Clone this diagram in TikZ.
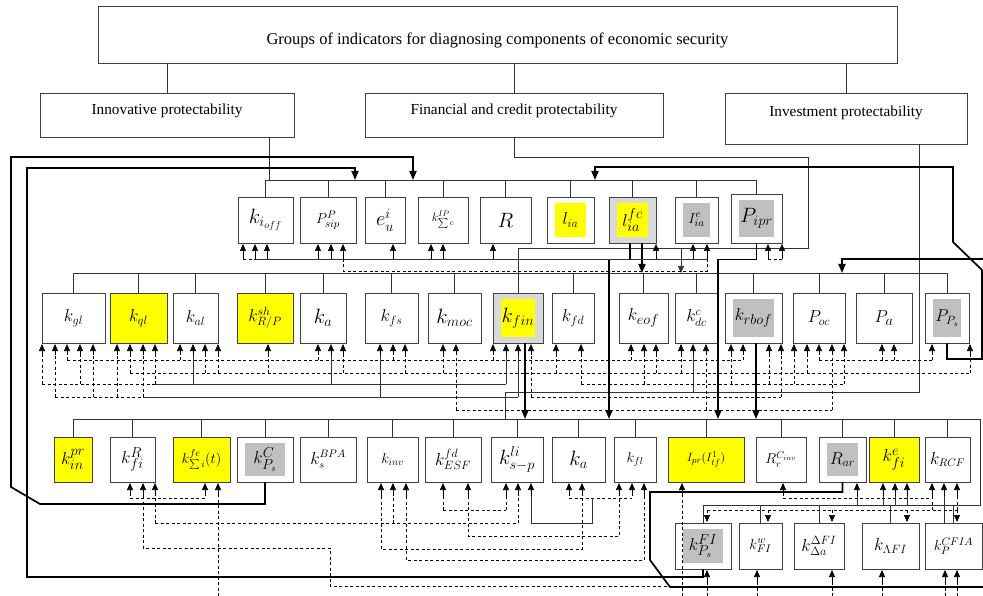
\documentclass[tikz,border=0pt]{standalone}
\usepackage{fontspec}
\setmainfont{Liberation Serif}
\usetikzlibrary{arrows.meta}
\definecolor{hiyel}{RGB}{255,255,0}
\definecolor{hgray}{RGB}{192,192,192}
\definecolor{lgray}{RGB}{217,217,217}
\tikzset{
    lbl/.style={font=\fontsize{#1}{#1}\selectfont},
    grp/.style={draw=black!75,line width=0.9pt,text height=11pt,text depth=11pt,font=\fontsize{15.3}{17}\selectfont},
    ind/.style={draw=black!75,line width=0.9pt,fill=white,inner sep=0pt,lbl=18},
    core/.style={path picture={\fill[#1] ([shift={(8pt,6pt)}]path picture bounding box.south west) rectangle ([shift={(-8pt,-6pt)}]path picture bounding box.north east);}},
    tree/.style={draw=black!80,line width=0.8pt},
    stub/.style={-{Triangle[length=7pt,width=6pt]},line width=0.7pt},
    dsh/.style={line width=0.7pt,dash pattern=on 3pt off 2.5pt},
    heavy/.style={line width=1.7pt},
    heavyarr/.style={line width=1.7pt,-{Triangle[length=9pt,width=7pt]}},
}

\begin{document}
\begin{tikzpicture}[x=1pt,y=-1pt]
\useasboundingbox (0,0) rectangle (983,596);
% groups
\node[grp,minimum width=799pt,minimum height=57pt,text height=22pt,text depth=2pt,font=\fontsize{16.5}{18}\selectfont] (top) at (497.5,34.5) {Groups of indicators for diagnosing components of economic security};
\node[grp,minimum width=254pt,minimum height=44pt] (inn) at (167,115) {Innovative protectability};
\node[grp,minimum width=298pt,minimum height=44pt] (fin) at (514,115) {Financial and credit protectability};
\node[grp,minimum width=242pt,minimum height=51pt,text depth=14pt] (inv) at (846,118.5) {Investment protectability};

% row 1
\node[ind,minimum width=55pt,minimum height=46pt,lbl=20] (kioff) at (265.5,220) {$k_{i_{off}}$};
\node[ind,minimum width=56pt,minimum height=46pt,lbl=15] (Psip) at (328,220) {$P^{P}_{sip}$};
\node[ind,minimum width=40pt,minimum height=46pt,lbl=20] (eu) at (385,220) {$e^{i}_{u}$};
\node[ind,minimum width=50pt,minimum height=46pt,lbl=12] (kIP) at (443,220) {$k^{IP}_{\sum c}$};
\node[ind,minimum width=51pt,minimum height=46pt,lbl=20] (R) at (505.5,220) {$R$};
\node[ind,minimum width=47pt,minimum height=46pt,core=hiyel] (lia) at (570.5,220) {$l_{ia}$};
\node[ind,minimum width=47pt,minimum height=46pt,fill=lgray,core=hiyel,lbl=19] (lfc) at (632.5,220) {$l^{fc}_{ia}$};
\node[ind,minimum width=43pt,minimum height=46pt,core=hgray,lbl=15] (Iia) at (696.5,220) {$I^{e}_{ia}$};
\node[ind,minimum width=51pt,minimum height=49pt,core=hgray,lbl=20] (Pipr) at (756.5,218.5) {$P_{ipr}$};

% row 2
\node[ind,minimum width=63pt,minimum height=50pt] (kgl) at (73.5,318) {$k_{gl}$};
\node[ind,minimum width=57pt,minimum height=50pt,fill=hiyel] (kql) at (138.5,318) {$k_{ql}$};
\node[ind,minimum width=45pt,minimum height=50pt] (kal) at (195.5,318) {$k_{al}$};
\node[ind,minimum width=56pt,minimum height=50pt,fill=hiyel] (ksh) at (265,318) {$k^{sh}_{R/P}$};
\node[ind,minimum width=46pt,minimum height=50pt,lbl=20] (ka) at (323,318) {$k_{a}$};
\node[ind,minimum width=53pt,minimum height=50pt] (kfs) at (391.5,318) {$k_{fs}$};
\node[ind,minimum width=53pt,minimum height=50pt,lbl=20] (kmoc) at (454.5,318) {$k_{moc}$};
\node[ind,minimum width=50pt,minimum height=50pt,fill=lgray,core=hiyel,lbl=20] (kfin) at (518,318) {$k_{fin}$};
\node[ind,minimum width=42pt,minimum height=50pt,lbl=17] (kfd) at (573,318) {$k_{fd}$};
\node[ind,minimum width=49pt,minimum height=50pt,lbl=19] (keof) at (643.5,318) {$k_{eof}$};
\node[ind,minimum width=43pt,minimum height=50pt,lbl=17] (kdc) at (696.5,318) {$k^{c}_{dc}$};
\node[ind,minimum width=57pt,minimum height=50pt,core=hgray,lbl=19] (krbof) at (753.5,318) {$k_{rbof}$};
\node[ind,minimum width=52pt,minimum height=50pt,lbl=17] (Poc) at (819,318) {$P_{oc}$};
\node[ind,minimum width=56pt,minimum height=50pt,lbl=19] (Pa) at (884,318) {$P_{a}$};
\node[ind,minimum width=44pt,minimum height=50pt,core=hgray,lbl=17] (PPs) at (947,318) {$P_{P_s}$};

% row 3
\node[ind,minimum width=38pt,minimum height=45pt,fill=hiyel,lbl=19] (kpr) at (73,459.5) {$k^{pr}_{in}$};
\node[ind,minimum width=45pt,minimum height=45pt,lbl=19] (kRfi) at (132.5,459.5) {$k^{R}_{fi}$};
\node[ind,minimum width=57pt,minimum height=45pt,fill=hiyel,lbl=14] (kfe) at (201.5,459.5) {$k^{fe}_{\sum i}(t)$};
\node[ind,minimum width=56pt,minimum height=45pt,core=hgray,lbl=19] (kCPs) at (265,459.5) {$k^{C}_{P_s}$};
\node[ind,minimum width=56pt,minimum height=45pt,lbl=16] (kBPA) at (328,459.5) {$k^{BPA}_{s}$};
\node[ind,minimum width=51pt,minimum height=45pt,lbl=14] (kinv) at (392.5,459.5) {$k_{inv}$};
\node[ind,minimum width=56pt,minimum height=45pt] (kESF) at (453,459.5) {$k^{fd}_{ESF}$};
\node[ind,minimum width=52pt,minimum height=45pt,lbl=20] (kli) at (517,459.5) {$k^{li}_{s-p}$};
\node[ind,minimum width=53pt,minimum height=45pt,lbl=22] (kab) at (578.5,459.5) {$k_{a}$};
\node[ind,minimum width=42pt,minimum height=45pt,lbl=14] (kfl) at (635,459.5) {$k_{fl}$};
\node[ind,minimum width=76pt,minimum height=45pt,fill=hiyel,lbl=13] (Ipr) at (706,459.5) {$I_{pr}(I^{1}_{tf})$};
\node[ind,minimum width=50pt,minimum height=45pt,lbl=14] (RCinv) at (781,459.5) {$R^{C_{inv}}_{r}$};
\node[ind,minimum width=47pt,minimum height=45pt,core=hgray,lbl=17] (Rar) at (842.5,459.5) {$R_{ar}$};
\node[ind,minimum width=50pt,minimum height=45pt,fill=hiyel,lbl=19] (kefi) at (894,459.5) {$k^{e}_{fi}$};
\node[ind,minimum width=45pt,minimum height=45pt,lbl=16] (kRCF) at (947.5,459.5) {$k_{RCF}$};

% row 4
\node[ind,minimum width=56pt,minimum height=46pt,core=hgray,lbl=19] (kFIPs) at (703,546) {$k^{FI}_{P_s}$};
\node[ind,minimum width=43pt,minimum height=46pt,lbl=15] (kwFI) at (760.5,546) {$k^{w}_{FI}$};
\node[ind,minimum width=50pt,minimum height=46pt,lbl=17] (kDFI) at (819,546) {$k^{\Delta FI}_{\Delta a}$};
\node[ind,minimum width=57pt,minimum height=46pt,lbl=17] (kLFI) at (890.5,546) {$k_{\Lambda FI}$};
\node[ind,minimum width=57pt,minimum height=46pt,lbl=15] (kCFIA) at (953.5,546) {$k^{CFIA}_{P}$};

% tree levels
\coordinate (b1) at (0,180);
\coordinate (b2) at (0,273);
\coordinate (b3) at (0,419);
\coordinate (b4) at (0,505);
\coordinate (b3e) at (980,419);
\coordinate (b4e) at (980,505);

\foreach \n in {inn,fin,inv} \draw[tree] (\n.north) -- (\n.north |- top.south);
\coordinate (innout) at ([xshift=102pt]inn.south);
\draw[tree] (innout) -- (innout |- b1);
\coordinate (fturn) at (808,157);
\coordinate (fdrop) at (808,248);
\coordinate (fsplit) at (681,248);
\draw[tree] (fin.south) |- (fturn) -- (fdrop) -| (kfin.north);
\draw[tree,stub] (fsplit) -- (fsplit |- b2);
\coordinate (iturn) at (505,392);
\draw[tree] ([xshift=73pt]inv.south) |- (iturn) -- (iturn |- b3);

\draw[tree] (kioff.north |- b1) -- (Pipr.north |- b1);
\foreach \n in {kioff,Psip,eu,kIP,R,lia,lfc,Iia,Pipr} \draw[tree] (\n.north) -- (\n.north |- b1);
\draw[tree] (kgl.north |- b2) -- (PPs.north |- b2);
\foreach \n in {kgl,kql,kal,ksh,ka,kfs,kmoc,kfin,kfd,keof,kdc,krbof,Poc,Pa,PPs} \draw[tree] (\n.north) -- (\n.north |- b2);
\draw[tree] (kpr.north |- b3) -- (b3e) -- (b4e) -- (kFIPs.north |- b4);
\foreach \n in {kpr,kRfi,kfe,kCPs,kBPA,kinv,kESF,kli,kab,kfl,Ipr,RCinv,Rar,kefi,kRCF} \draw[tree] (\n.north) -- (\n.north |- b3);
\foreach \n in {kFIPs,kwFI,kDFI,kLFI,kCFIA} \draw[tree] (\n.north) -- (\n.north |- b4);

% heavy feedback lines
\coordinate (a1) at (413,180);
\coordinate (a2) at (355,180);
\coordinate (a3) at (595,180);
\coordinate (a5) at (842,273);
\draw[heavyarr] (kCPs.south) |- (40,504) -- (11,487) -- (11,157) -| (a1);
\draw[heavyarr] (kFIPs.south) |- (27,577) -- (27,168) -| (a2);
\draw[heavyarr] (PPs.south) |- (982,359) -- (982,270) -- (953,242) -- (953,167) -| (a3);
\draw[heavy] (Rar.south) |- (650,492) -- (650,560) -- (670,587) -- (983,587);
\draw[heavyarr] (983,259) -| (a5);
\coordinate (t2) at (609,419);
\coordinate (t4) at (718,419);
\draw[heavyarr] ([xshift=7pt]kfin.south) -- ([xshift=7pt]kfin.south |- b3);
\draw[heavyarr] ([xshift=-2.5pt]lfc.south) -- ++(0,16) -| (t2);
\draw[heavyarr] ([xshift=9.5pt]lfc.south) -- ([xshift=9.5pt]lfc.south |- b2);
\draw[heavyarr] (Pipr.south) -- ++(0,16) -| (t4);
\draw[heavyarr] ([xshift=2.5pt]krbof.south) -- ([xshift=2.5pt]krbof.south |- b3);

% row 1 inputs
\draw[tree] (255,259) -- (707,259);
\draw[dsh] (243,259) -- (255,259);
\draw[dsh] (343,259) -- (343,271) -- (707,271) -- (707,259);
\draw[dsh] (768,259) -- (782,259);
\foreach \x in {243,255,267,318,331,343,393,431,443,493,656,693,707,768,782}
    \draw[stub] (\x,259) -- (\x,244);

% row 2 inputs
\draw[dsh] (67,360) -- (743,360);
\foreach \x in {67,180,318,393,493,631,743} \draw[dsh] (\x,360) -- (\x,355);
\draw[dsh] (819,360) -- (932,360);
\foreach \x in {819,882,894,932} \draw[dsh] (\x,360) -- (\x,355);
\draw[dsh] (130,373) -- (970,373);
\foreach \x in {130,205,218,268,343,405,443,556,656,681,807,970} \draw[dsh] (\x,373) -- (\x,355);
\draw[dsh] (42,384) -- (155,384);
\foreach \x in {42,80,155} \draw[dsh] (\x,384) -- (\x,355);
\draw[tree] (155,384) -- (506,384);
\foreach \x in {193,331,506} \draw[tree] (\x,384) -- (\x,355);
\draw[dsh] (581,384) -- (844,384);
\foreach \x in {581,644,731,769,794,844} \draw[dsh] (\x,384) -- (\x,355);
\draw[dsh] (55,397) -- (143,397);
\foreach \x in {55,93,117,143} \draw[dsh] (\x,397) -- (\x,355);
\draw[tree] (143,397) -- (518,397);
\foreach \x in {380,518} \draw[tree] (\x,397) -- (\x,355);
\draw[dsh] (531,397) -- (781,397);
\foreach \x in {531,781} \draw[dsh] (\x,397) -- (\x,355);
\draw[dsh] (456,410) -- (832,410);
\foreach \x in {456,706,832} \draw[dsh] (\x,410) -- (\x,355);
\draw[tree] (693,392) -- (693,355);
\foreach \x in {42,55,67,80,93,117,130,143,155,180,193,205,218,268,318,331,343,380,393,405,443,456,493,506,518,531,556,581,631,644,656,681,693,706,731,743,769,781,794,807,819,832,844,882,894,932,970}
    \draw[stub] (\x,355) -- (\x,344);

% row 3 inputs
\draw[dsh] (130,498) -- (205,498);
\draw[dsh] (155,523) -- (518,523);
\foreach \x in {155,393,518} \draw[dsh] (\x,523) -- (\x,496);
\draw[dsh] (443,510) -- (506,510);
\foreach \x in {443,506} \draw[dsh] (\x,510) -- (\x,496);
\draw[dsh] (468,496) -- (468,536) -- (619,536) -- (619,496);
\draw[dsh] (381,496) -- (381,549) -- (582,549) -- (582,496);
\draw[dsh] (406,496) -- (406,560) -- (644,560) -- (644,496);
\draw[dsh] (569,498) -- (632,498);
\draw[tree] (531,496) -- (531,523) -- (592,523) -- (592,498);
\draw[dsh] (143,496) -- (143,548) -- (330,548) -- (330,586) -- (682,586);
\draw[dsh] (682,596) -- (682,496);
\draw[dsh] (218,596) -- (218,496);
\draw[dsh] (783,498) -- (932,498);
\foreach \x in {857,883,895,907} \draw[tree] (\x,505) -- (\x,496);
\draw[tree] (944,496) -- (944,523);
\draw[dsh] (707,510) -- (957,510);
\foreach \x in {932,957} \draw[dsh] (\x,510) -- (\x,496);
\foreach \x in {130,143,155,205,218,381,393,406,443,468,506,518,531,569,582,619,632,644,682,783,857,883,895,907,932,944,957}
    \draw[stub] (\x,496) -- (\x,483);
\foreach \x in {707,768,832,907,957}
    \draw[dsh,stub] (\x,510) -- (\x,522);

% row 4 inputs
\foreach \x in {707,757,832,882,945,957} {
    \draw[dsh] (\x,596) -- (\x,582);
    \draw[stub] (\x,582) -- (\x,570);
}
\end{tikzpicture}
\end{document}
